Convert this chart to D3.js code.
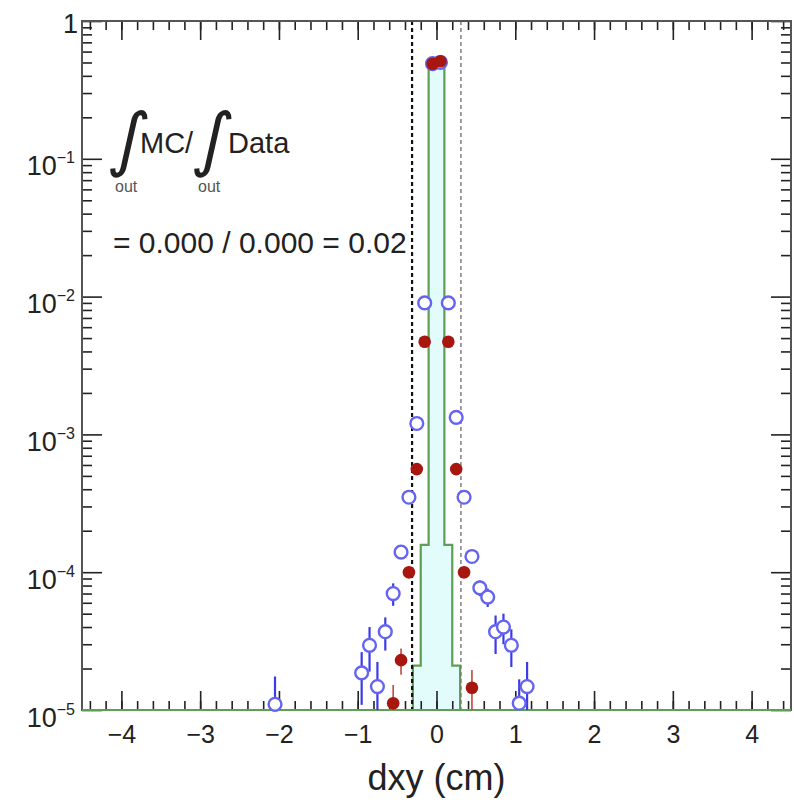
<!DOCTYPE html>
<html>
<head>
<meta charset="utf-8">
<script src="https://cdn.jsdelivr.net/npm/d3@7"></script>
<style>
  body { margin: 0; background: #fff; }
  svg text { font-family: "Liberation Sans", Arial, sans-serif; fill: #222; }
</style>
</head>
<body>
<div id="chart"></div>
<script>
// dxy distribution, data (blue open) vs MC (red filled), green = MC out-of-cut
const xTickValues = [-4, -3, -2, -1, 0, 1, 2, 3, 4];
const yTickValues = [1e-5, 1e-4, 1e-3, 1e-2, 1e-1, 1];

const blueX = [-2.05, -0.95, -0.85, -0.75, -0.65, -0.55, -0.45, -0.35, -0.25, -0.15, -0.05,
               0.05, 0.15, 0.25, 0.35, 0.45, 0.55, 0.65, 0.75, 0.85, 0.95, 1.05, 1.15];
const blueY = [1.1e-5, 1.86e-5, 2.95e-5, 1.48e-5, 3.7e-5, 7.0e-5, 1.4e-4, 3.5e-4, 1.2e-3, 9.0e-3, 0.49,
               0.50, 9.0e-3, 1.33e-3, 3.5e-4, 1.3e-4, 7.7e-5, 6.6e-5, 3.7e-5, 4.0e-5, 2.95e-5, 1.12e-5, 1.48e-5];
const blueErr = [0.65e-5, 0.77e-5, 1.05e-5, 0.75e-5, 1.0e-5, 1.3e-5, 1.4e-5, 2e-5, 5e-5, 2e-4, 3e-3,
                 3e-3, 2e-4, 5e-5, 2e-5, 1.2e-5, 1.0e-5, 1.0e-5, 1.15e-5, 1.0e-5, 0.9e-5, 0.55e-5, 0.75e-5];

const redX = [-0.55, -0.45, -0.35, -0.25, -0.15, -0.05, 0.05, 0.15, 0.25, 0.35, 0.45];
const redY = [1.12e-5, 2.3e-5, 1.0e-4, 5.6e-4, 4.7e-3, 0.49, 0.51, 4.7e-3, 5.6e-4, 1.0e-4, 1.45e-5];
const redErr = [0.4e-5, 0.5e-5, 1e-5, 2.5e-5, 7e-5, 2e-3, 2e-3, 7e-5, 2.5e-5, 1e-5, 0.5e-5];

// green histogram: bin edges and contents (0 = empty)
const mcEdges = [-4.5, -0.3, -0.2, -0.1, 0, 0.1, 0.2, 0.3, 4.5];
const mcValues = [0, 2.1e-5, 1.58e-4, 0.49, 0.49, 1.58e-4, 2.1e-5, 0];

const cutX = [-0.31, 0.31];

const W = 794, H = 803;
const frame = { left: 82, right: 791, top: 21, bottom: 710 };

const svg = d3.select("#chart").append("svg")
    .attr("width", W)
    .attr("height", H);

const x = d3.scaleLinear().domain([-4.5, 4.5]).range([frame.left, frame.right]);
const y = d3.scaleLog().domain([1e-5, 1]).range([frame.bottom, frame.top]);
const yMin = 1e-5;

svg.append("clipPath").attr("id", "clip")
    .append("rect")
    .attr("x", frame.left).attr("y", frame.top)
    .attr("width", frame.right - frame.left)
    .attr("height", frame.bottom - frame.top);

// histogram
const histPts = [];
mcValues.forEach((v, i) => {
    const yy = y(Math.max(v, yMin));
    histPts.push([x(mcEdges[i]), yy]);
    histPts.push([x(mcEdges[i + 1]), yy]);
});
const hist = svg.append("g").attr("clip-path", "url(#clip)");
hist.append("path")
    .attr("d", d3.area().x(d => d[0]).y0(y(yMin)).y1(d => d[1])(histPts))
    .attr("fill", "#e2fbfb");
hist.append("path")
    .attr("d", d3.line()(histPts))
    .attr("fill", "none")
    .attr("stroke", "#5f9e55")
    .attr("stroke-width", 2.2);

// cut lines
svg.append("line")
    .attr("x1", x(cutX[0])).attr("x2", x(cutX[0]))
    .attr("y1", frame.top).attr("y2", frame.bottom)
    .attr("stroke", "#111").attr("stroke-width", 2.2)
    .attr("stroke-dasharray", "4,3");
svg.append("line")
    .attr("x1", x(cutX[1])).attr("x2", x(cutX[1]))
    .attr("y1", frame.top).attr("y2", frame.bottom)
    .attr("stroke", "#777").attr("stroke-width", 1.4)
    .attr("stroke-dasharray", "4,3");

// axes
function styleAxis(g) {
    g.select(".domain").remove();
    g.selectAll(".tick line").attr("stroke", "#222").attr("stroke-width", 1.6);
}
const xMinor = d3.range(-4.4, 4.5, 0.2).map(v => Math.round(v * 10) / 10);
const yMinor = [];
yTickValues.slice(0, -1).forEach(d => { for (let k = 2; k <= 9; k++) yMinor.push(d * k); });

svg.append("g").attr("transform", `translate(0,${frame.bottom})`)
    .call(d3.axisBottom(x).tickValues(xMinor).tickSize(-9).tickFormat(""))
    .call(styleAxis);
svg.append("g").attr("transform", `translate(0,${frame.top})`)
    .call(d3.axisTop(x).tickValues(xMinor).tickSize(-9).tickFormat(""))
    .call(styleAxis);
svg.append("g").attr("transform", `translate(0,${frame.top})`)
    .call(d3.axisTop(x).tickValues(xTickValues).tickSize(-19).tickFormat(""))
    .call(styleAxis);
svg.append("g").attr("class", "x-major").attr("transform", `translate(0,${frame.bottom})`)
    .call(d3.axisBottom(x).tickValues(xTickValues).tickSize(-19).tickPadding(15)
        .tickFormat(d => d < 0 ? "\u2212" + Math.abs(d) : String(d)))
    .call(styleAxis)
    .selectAll("text")
    .attr("font-size", 25)
    .attr("dy", "0.71em")
    .style("fill", "#222");

svg.append("g").attr("transform", `translate(${frame.left},0)`)
    .call(d3.axisLeft(y).tickValues(yMinor).tickSize(-10).tickFormat(""))
    .call(styleAxis);
svg.append("g").attr("transform", `translate(${frame.right},0)`)
    .call(d3.axisRight(y).tickValues(yMinor).tickSize(-10).tickFormat(""))
    .call(styleAxis);
svg.append("g").attr("transform", `translate(${frame.right},0)`)
    .call(d3.axisRight(y).tickValues(yTickValues).tickSize(-20).tickFormat(""))
    .call(styleAxis);
const yMajor = svg.append("g").attr("transform", `translate(${frame.left},0)`)
    .call(d3.axisLeft(y).tickValues(yTickValues).tickSize(-20).tickPadding(7).tickFormat(""))
    .call(styleAxis);
yMajor.selectAll(".tick text").each(function(d) {
    const t = d3.select(this).attr("dy", null).attr("y", 16).attr("font-size", 27)
        .style("fill", "#222");
    const p = Math.round(Math.log10(d));
    if (p === 0) {
        t.text("1").attr("y", 11).attr("x", -4);
    } else {
        t.append("tspan").text("10");
        t.append("tspan").text("\u2212" + Math.abs(p))
            .attr("font-size", 16).attr("dy", -12);
    }
});

// frame
svg.append("rect")
    .attr("x", frame.left).attr("y", frame.top)
    .attr("width", frame.right - frame.left)
    .attr("height", frame.bottom - frame.top)
    .attr("fill", "none").attr("stroke", "#555").attr("stroke-width", 2);
svg.append("line")
    .attr("x1", frame.left).attr("x2", frame.right)
    .attr("y1", frame.bottom).attr("y2", frame.bottom)
    .attr("stroke", "#5f9e55").attr("stroke-width", 2.2);

// error bars + markers
const blue = blueX.map((v, i) => ({ x: v, y: blueY[i], e: blueErr[i] }));
const red = redX.map((v, i) => ({ x: v, y: redY[i], e: redErr[i] }));

const errG = svg.append("g").attr("clip-path", "url(#clip)");
errG.selectAll(".eb-blue").data(blue).enter().append("line")
    .attr("class", "eb-blue")
    .attr("x1", d => x(d.x)).attr("x2", d => x(d.x))
    .attr("y1", d => y(Math.max(d.y - d.e, 1e-6)))
    .attr("y2", d => y(d.y + d.e))
    .attr("stroke", "#3c3ce6").attr("stroke-width", 2.2);

svg.selectAll(".dot-blue").data(blue).enter().append("circle")
    .attr("class", "dot-blue")
    .attr("cx", d => x(d.x)).attr("cy", d => y(d.y))
    .attr("r", 6.4)
    .attr("fill", "#fff")
    .attr("stroke", "#6464f0").attr("stroke-width", 2.4);

errG.selectAll(".eb-red").data(red).enter().append("line")
    .attr("class", "eb-red")
    .attr("x1", d => x(d.x)).attr("x2", d => x(d.x))
    .attr("y1", d => y(Math.max(d.y - d.e, 1e-6)))
    .attr("y2", d => y(d.y + d.e))
    .attr("stroke", "#c0473d").attr("stroke-width", 1.6);

svg.selectAll(".dot-red").data(red).enter().append("circle")
    .attr("class", "dot-red")
    .attr("cx", d => x(d.x)).attr("cy", d => y(d.y))
    .attr("r", 6.3)
    .attr("fill", "#a8170f");

// annotation
const ann = svg.append("g");
const intStyle = t => t.attr("font-size", 70)
    .style("font-family", "'DejaVu Sans', sans-serif")
    .attr("transform", "skewX(-10)");
ann.append("text").attr("x", 136).attr("y", 163).text("\u222B").call(intStyle);
ann.append("text").attr("x", 220).attr("y", 163).text("\u222B").call(intStyle);
ann.append("text").attr("x", 140).attr("y", 153).attr("font-size", 29).text("MC/");
ann.append("text").attr("x", 228).attr("y", 153).attr("font-size", 29).text("Data");
ann.append("text").attr("x", 115).attr("y", 192).attr("font-size", 16).style("fill", "#555").text("out");
ann.append("text").attr("x", 198).attr("y", 192).attr("font-size", 16).style("fill", "#555").text("out");
ann.append("text").attr("x", 113).attr("y", 253).attr("font-size", 30)
    .text("= 0.000 / 0.000 = 0.02");

// axis title
svg.append("text")
    .attr("x", x(0)).attr("y", 790)
    .attr("text-anchor", "middle")
    .attr("font-size", 36)
    .text("dxy (cm)");
</script>
</body>
</html>
